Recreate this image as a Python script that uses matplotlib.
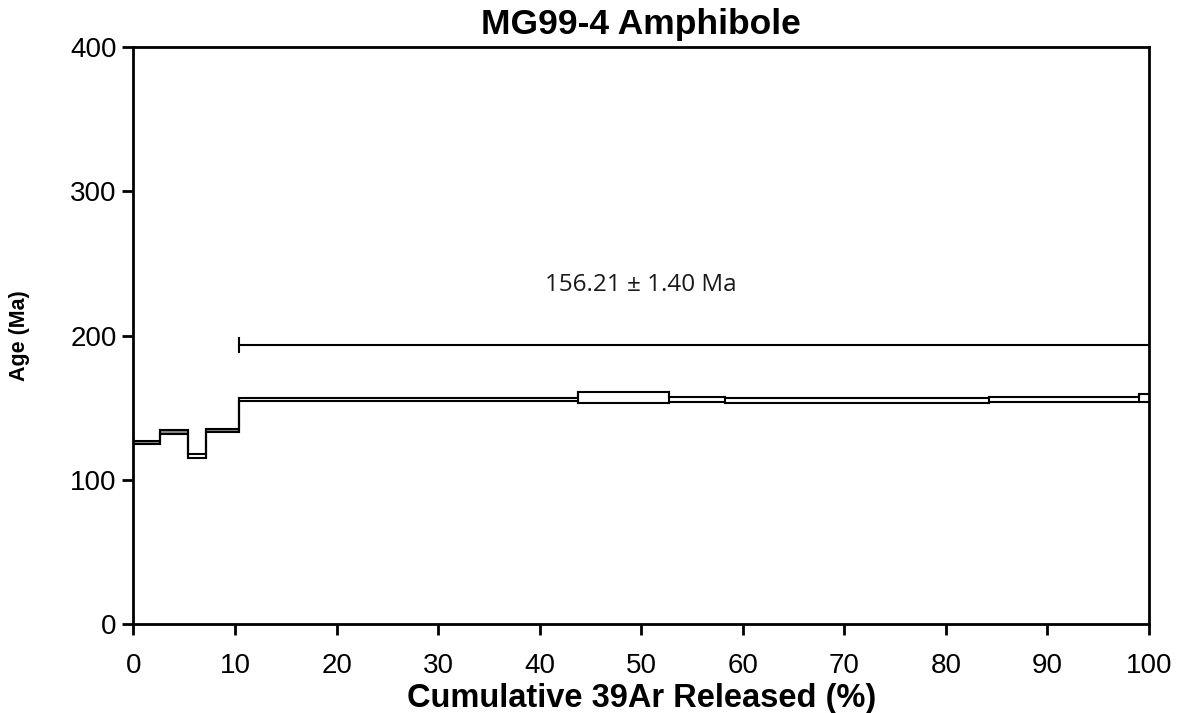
import matplotlib
matplotlib.use("Agg")
import matplotlib.pyplot as plt
import numpy as np

# Step boundaries (cumulative 39Ar released, %)
edges = [0, 2.6, 5.4, 7.1, 10.4, 43.8, 52.7, 58.2, 84.2, 99.0, 100]
# Upper and lower bounds of each step (Ma)
upper = [127.2, 134.6, 117.9, 135.5, 156.9, 160.9, 157.7, 156.8, 157.3, 159.6]
lower = [124.6, 132.0, 115.4, 133.0, 154.3, 153.5, 154.2, 153.5, 154.0, 154.2]
shaded = [True, True, False, True, False, False, False, False, False, False]

plateau_start = 10.4
plateau_end = 100
plateau_y = 193.5
plateau_label = "156.21 \u00b1 1.40 Ma"

xticks = [0, 10, 20, 30, 40, 50, 60, 70, 80, 90, 100]
yticks = [0, 100, 200, 300, 400]

plt.rcParams['font.family'] = ['Liberation Sans', 'DejaVu Sans']

fig = plt.figure(figsize=(11.77, 7.13), dpi=100)
ax = fig.add_axes([0.1134, 0.1248, 0.9762 - 0.1134, 0.9341 - 0.1248])

lw = 1.5
for i in range(len(upper)):
    x0, x1 = edges[i], edges[i + 1]
    fc = '#8a8a8a' if shaded[i] else 'white'
    ax.fill_between([x0, x1], [lower[i]] * 2, [upper[i]] * 2, color=fc, lw=0, zorder=2)

# upper and lower outlines as connected step lines
xs = np.array(edges)
up = np.array(upper + [upper[-1]])
lo = np.array(lower + [lower[-1]])
ax.step(xs, up, where='post', color='black', lw=lw, zorder=3, solid_joinstyle='miter')
ax.step(xs, lo, where='post', color='black', lw=lw, zorder=3, solid_joinstyle='miter')
# vertical edges of each step box
for i in range(1, len(edges) - 1):
    ymin = min(lower[i - 1], lower[i])
    ymax = max(upper[i - 1], upper[i])
    ax.plot([edges[i], edges[i]], [ymin, ymax], color='black', lw=lw, zorder=3)

# plateau bar
ax.plot([plateau_start, plateau_end], [plateau_y, plateau_y], color='black', lw=lw, zorder=3)
ax.plot([plateau_start, plateau_start], [plateau_y - 5, plateau_y + 5], color='black', lw=lw, zorder=3)
ax.text(50.0, 235, plateau_label, ha='center', va='center', fontsize=17.5,
        family=['Open Sans', 'DejaVu Sans'], color='#1a1a1a')

ax.set_xlim(0, 100)
ax.set_ylim(0, 400)
ax.set_xticks(xticks)
ax.set_yticks(yticks)
ax.tick_params(axis='both', direction='out', length=8, width=2, labelsize=20)
ax.tick_params(axis='x', pad=13)
ax.tick_params(axis='y', pad=4)
for s in ax.spines.values():
    s.set_linewidth(2)

ax.set_xlabel("Cumulative 39Ar Released (%)", fontsize=23.5, fontweight='bold', labelpad=3)
ax.set_ylabel("Age (Ma)", fontsize=15.5, fontweight='bold', labelpad=29)
ax.set_title("MG99-4 Amphibole", fontsize=25.5, fontweight='bold', pad=9)

fig.savefig("out.png", dpi=100)
